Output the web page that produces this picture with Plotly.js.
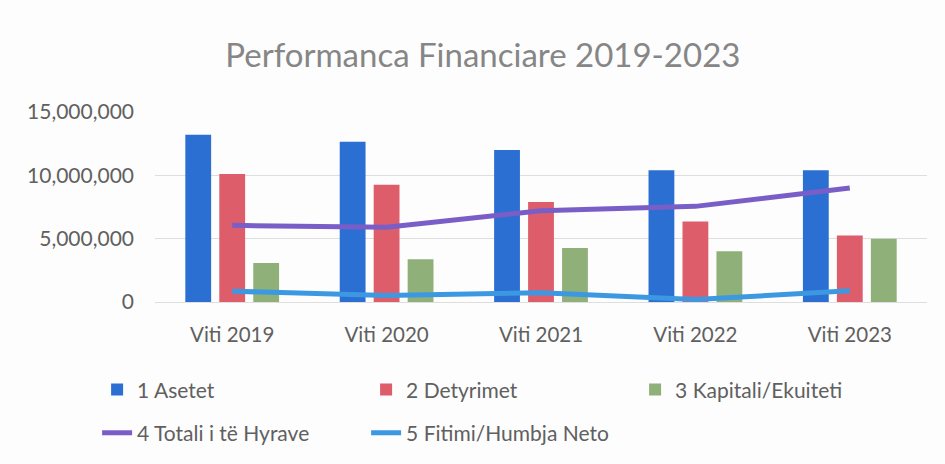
<!DOCTYPE html>
<html>
<head>
<meta charset="utf-8">
<script src="https://cdn.plot.ly/plotly-3.0.1.min.js"></script>
<style>
  html, body { margin: 0; padding: 0; background: #fdfdfd; }
  #chart { width: 945px; height: 464px; }
</style>
</head>
<body>
<div id="chart"></div>
<script>
const categories = ["Viti 2019", "Viti 2020", "Viti 2021", "Viti 2022", "Viti 2023"];
const asetet     = [13200000, 12650000, 12000000, 10400000, 10400000];
const detyrimet  = [10100000, 9250000, 7900000, 6350000, 5250000];
const kapitali   = [3080000, 3380000, 4270000, 4000000, 5000000];
const totaliHyrave = [6050000, 5900000, 7200000, 7550000, 9000000];
const fitimiNeto   = [850000, 520000, 730000, 200000, 880000];
const seriesNames = ["1 Asetet", "2 Detyrimet", "3 Kapitali/Ekuiteti", "4 Totali i të Hyrave", "5 Fitimi/Humbja Neto"];
const yTickVals = [0, 5000000, 10000000, 15000000];
const yTickText = ["0", "5,000,000", "10,000,000", "15,000,000"];

const fontFam = "Lato, 'Open Sans', sans-serif";
const txt = "#606060";

const traces = [
  { type: "bar", x: categories, y: asetet, name: seriesNames[0], marker: { color: "#2b6fd2" }, legend: "legend" },
  { type: "bar", x: categories, y: detyrimet, name: seriesNames[1], marker: { color: "#de5d6b" }, legend: "legend" },
  { type: "bar", x: categories, y: kapitali, name: seriesNames[2], marker: { color: "#8fb078" }, legend: "legend" },
  { type: "scatter", mode: "lines", x: categories, y: totaliHyrave, name: seriesNames[3], line: { color: "#7a5ec8", width: 5 }, legend: "legend2" },
  { type: "scatter", mode: "lines", x: categories, y: fitimiNeto, name: seriesNames[4], line: { color: "#3d98e2", width: 5 }, legend: "legend2" }
];

const legendCommon = {
  orientation: "h",
  xref: "paper", yref: "paper",
  xanchor: "left", yanchor: "middle",
  font: { family: fontFam, size: 21, color: txt },
  bgcolor: "rgba(0,0,0,0)",
  entrywidth: 224, entrywidthmode: "pixels",
  itemwidth: 30,
  traceorder: "normal"
};

const layout = {
  width: 945, height: 464,
  paper_bgcolor: "#fdfdfd", plot_bgcolor: "#fdfdfd",
  margin: { l: 155, r: 18, t: 112, b: 162, autoexpand: false },
  title: { text: "Performanca Financiare 2019-2023", x: 0.511, xref: "container", xanchor: "center", y: 0.88, yref: "container", yanchor: "middle",
           font: { family: fontFam, size: 33, color: "#868686" } },
  barmode: "group", bargap: 0.34, bargroupgap: 0.24,
  xaxis: { type: "category", showgrid: false, zeroline: false, showline: false, ticks: "",
           tickfont: { family: fontFam, size: 20.5, color: txt }, ticklabelstandoff: 18 },
  yaxis: { range: [0, 15000000], tickvals: yTickVals, ticktext: yTickText, showgrid: true, gridcolor: "#dedede", gridwidth: 1,
           zeroline: true, zerolinecolor: "#dedede", showline: false, ticks: "",
           tickfont: { family: fontFam, size: 21, color: txt }, ticklabelstandoff: 20 },
  legend: Object.assign({}, legendCommon, { x: -0.075, y: -0.463 }),
  legend2: Object.assign({}, legendCommon, { x: -0.075, y: -0.69 }),
  showlegend: true
};

Plotly.newPlot("chart", traces, layout, { displayModeBar: false, staticPlot: true });
</script>
</body>
</html>
